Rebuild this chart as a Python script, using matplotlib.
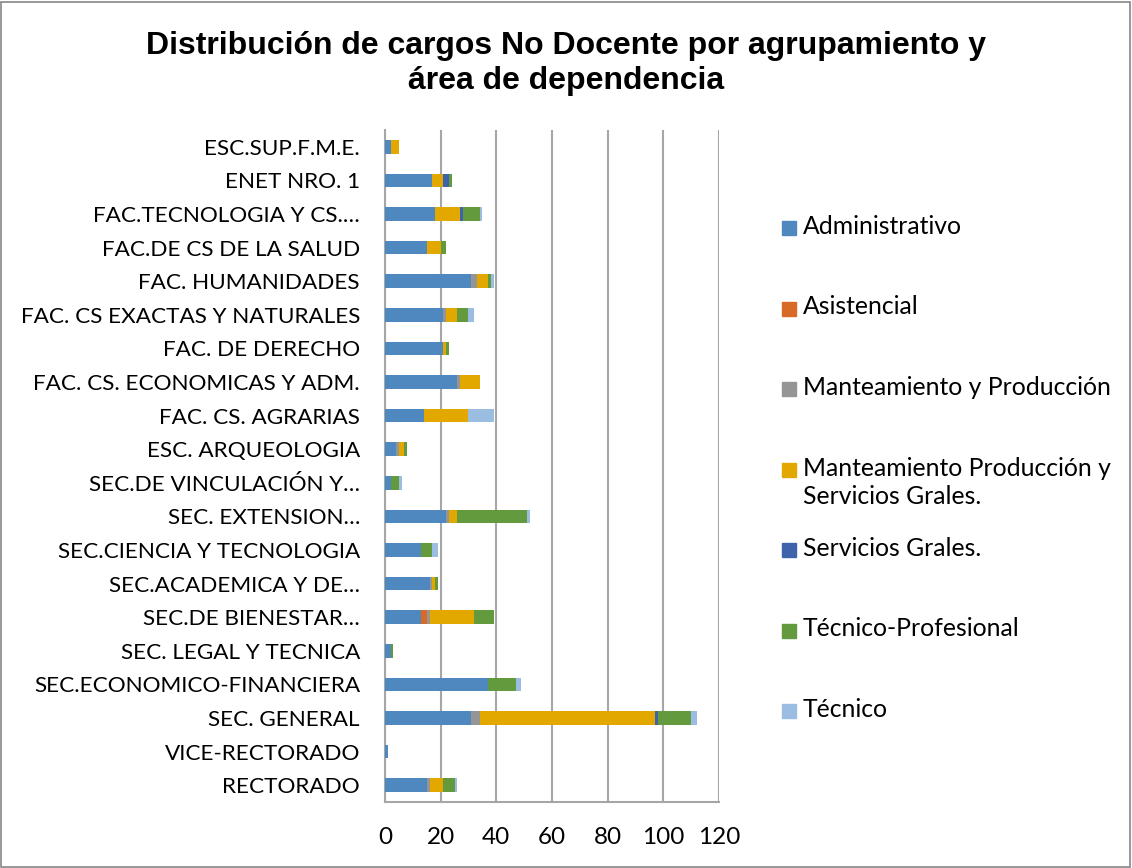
import numpy as np
import matplotlib.pyplot as plt
from matplotlib.patches import Rectangle

categories = ["RECTORADO", "VICE-RECTORADO", "SEC. GENERAL", "SEC.ECONOMICO-FINANCIERA",
              "SEC. LEGAL Y TECNICA", "SEC.DE BIENESTAR…", "SEC.ACADEMICA Y DE…",
              "SEC.CIENCIA Y TECNOLOGIA", "SEC. EXTENSION…", "SEC.DE VINCULACIÓN Y…",
              "ESC. ARQUEOLOGIA", "FAC. CS. AGRARIAS", "FAC. CS. ECONOMICAS Y ADM.",
              "FAC. DE DERECHO", "FAC. CS EXACTAS Y NATURALES", "FAC. HUMANIDADES",
              "FAC.DE CS DE LA SALUD", "FAC.TECNOLOGIA Y CS.…", "ENET NRO. 1", "ESC.SUP.F.M.E."]

administrativo = [15, 1, 31, 37, 2, 13, 16, 13, 22, 2, 4, 14, 26, 21, 21, 31, 15, 18, 17, 2]
asistencial = [0, 0, 0, 0, 0, 2, 0, 0, 0, 0, 0, 0, 0, 0, 0, 0, 0, 0, 0, 0]
mant_prod = [1, 0, 3, 0, 0, 1, 1, 0, 1, 0, 1, 0, 1, 0, 1, 2, 0, 0, 0, 0]
mant_prod_serv = [5, 0, 63, 0, 0, 16, 1, 0, 3, 0, 2, 16, 7, 1, 4, 4, 5, 9, 4, 3]
serv_grales = [0, 0, 1, 0, 0, 0, 0, 0, 0, 0, 0, 0, 0, 0, 0, 0, 0, 1, 2, 0]
tec_prof = [4, 0, 12, 10, 1, 7, 1, 4, 25, 3, 1, 0, 0, 1, 4, 1, 2, 6, 1, 0]
tecnico = [1, 0, 2, 2, 0, 0, 0, 2, 1, 1, 0, 9, 0, 0, 2, 1, 0, 1, 0, 0]

series = [
    ("Administrativo", administrativo, "#4F88BF"),
    ("Asistencial", asistencial, "#D86A28"),
    ("Manteamiento y Producción", mant_prod, "#959595"),
    ("Manteamiento Producción y\nServicios Grales.", mant_prod_serv, "#E3A800"),
    ("Servicios Grales.", serv_grales, "#3E63AD"),
    ("Técnico-Profesional", tec_prof, "#649A3E"),
    ("Técnico", tecnico, "#9CBDE2"),
]

fig = plt.figure(figsize=(11.32, 8.68), dpi=100)
W, H = 1132, 868
ax = fig.add_axes([385 / W, 1 - 802 / H, (719 - 385) / W, (802 - 130) / H])

y = np.arange(len(categories))
left = np.zeros(len(categories))
for name, vals, col in series:
    vals = np.array(vals, dtype=float)
    ax.barh(y, vals, left=left, height=0.4, color=col, edgecolor="none", zorder=3)
    left += vals

ax.set_xlim(0, 120)
ax.set_ylim(-0.5, len(categories) - 0.5)
ax.set_xticks(range(0, 121, 20))
ax.set_xticklabels([str(v) for v in range(0, 121, 20)], family="Lato", fontsize=17.5)
ax.set_yticks(y)
ax.set_yticklabels(categories, family="Lato", fontsize=16.2)
ax.tick_params(axis="x", length=0, pad=18)
ax.tick_params(axis="y", length=0, pad=18)
ax.grid(axis="x", color="#A6A6A6", linewidth=1.5, zorder=0)
for s in ["top", "right"]:
    ax.spines[s].set_visible(False)
for s in ["left", "bottom"]:
    ax.spines[s].set_color("#A6A6A6")
    ax.spines[s].set_linewidth(1.5)

fig.text(0.5, 1 - 46 / H, "Distribución de cargos No Docente por agrupamiento y",
         ha="center", va="center", family="Liberation Sans", fontweight="bold", fontsize=23)
fig.text(0.5, 1 - 81 / H, "área de dependencia",
         ha="center", va="center", family="Liberation Sans", fontweight="bold", fontsize=23)

# legend
y0 = 228
for i, (name, vals, col) in enumerate(series):
    yc = y0 + i * 80.5
    fig.patches.append(Rectangle((782 / W, 1 - (yc + 7) / H), 14 / W, 14 / H,
                                 transform=fig.transFigure, color=col))
    fig.text(803 / W, 1 - (yc - 13) / H, name, ha="left", va="top",
             family="Lato", fontsize=17.8, linespacing=1.3)

fig.patches.append(Rectangle((1 / W, 1 / H), (W - 3) / W, (H - 3) / H, transform=fig.transFigure,
                             fill=False, edgecolor="#868686", linewidth=1.2))

fig.savefig("out.png", dpi=100)
